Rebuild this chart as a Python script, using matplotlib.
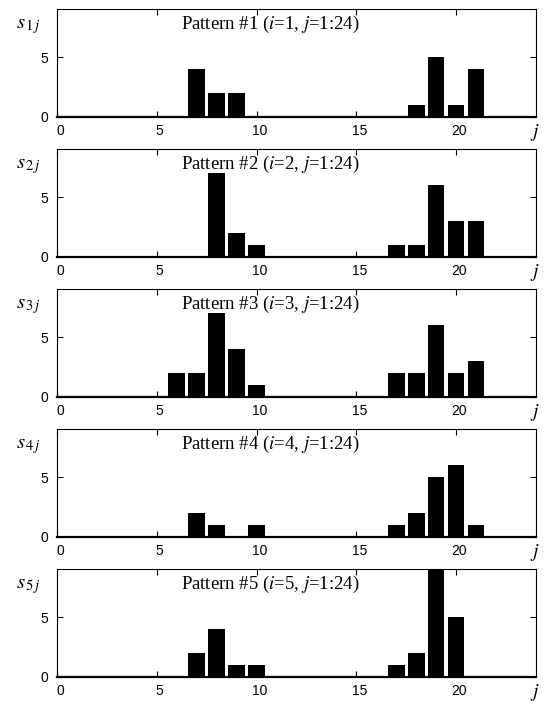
import matplotlib
matplotlib.use("Agg")
import matplotlib.pyplot as plt
import matplotlib.transforms as mtransforms
import numpy as np

plt.rcParams['font.family'] = ['Liberation Sans', 'DejaVu Sans']
plt.rcParams['mathtext.fontset'] = 'stix'

j = np.arange(1, 25)

# nonzero entries of each pattern, j -> s_ij
p1 = {7: 4, 8: 2, 9: 2, 18: 1, 19: 5, 20: 1, 21: 4}
p2 = {8: 7, 9: 2, 10: 1, 17: 1, 18: 1, 19: 6, 20: 3, 21: 3}
p3 = {6: 2, 7: 2, 8: 7, 9: 4, 10: 1, 17: 2, 18: 2, 19: 6, 20: 2, 21: 3}
p4 = {7: 2, 8: 1, 10: 1, 17: 1, 18: 2, 19: 5, 20: 6, 21: 1}
p5 = {7: 2, 8: 4, 9: 1, 10: 1, 17: 1, 18: 2, 19: 9, 20: 5}
patterns = [p1, p2, p3, p4, p5]

W, H = 544, 706
fig = plt.figure(figsize=(W / 100, H / 100), dpi=100)
shift = mtransforms.ScaledTranslation(3 / 100, 0, fig.dpi_scale_trans)

for k, p in enumerate(patterns):
    s = np.array([p.get(v, 0) for v in j])
    bottom = 116.7 + 140 * k
    ax = fig.add_axes([57 / W, 1 - bottom / H, 479 / W, 107.4 / H])
    ax.bar(j, s, width=0.83, color='black')
    ax.set_xlim(0, 24)
    ax.set_ylim(0, 9)
    ax.set_xticks([0, 5, 10, 15, 20])
    ax.set_yticks([0, 5])
    ax.tick_params(direction='in', length=4, width=0.8, top=True, right=True,
                   labelsize=10)
    ax.tick_params(axis='x', pad=5)
    ax.tick_params(axis='y', pad=6.5)
    for lab in ax.get_xticklabels():
        lab.set_transform(lab.get_transform() + shift)
    for sp in ax.spines.values():
        sp.set_linewidth(0.8)
    ax.spines['bottom'].set_linewidth(1.6)
    n = k + 1
    ax.text(10.7, 0.86, 'Pattern #%d ($i$=%d, $j$=1:24)' % (n, n),
            transform=ax.get_xaxis_transform(), ha='center', va='center',
            fontsize=13.5, family='Liberation Serif')
    ax.text(-0.086, 0.93, r'$s_{\,%d\,j}$' % n, transform=ax.transAxes,
            ha='left', va='top', fontsize=15)
    ax.text(23.95, -0.15, '$j$', transform=ax.get_xaxis_transform(),
            ha='center', va='center', fontsize=14)

fig.savefig('out.png', dpi=100)
